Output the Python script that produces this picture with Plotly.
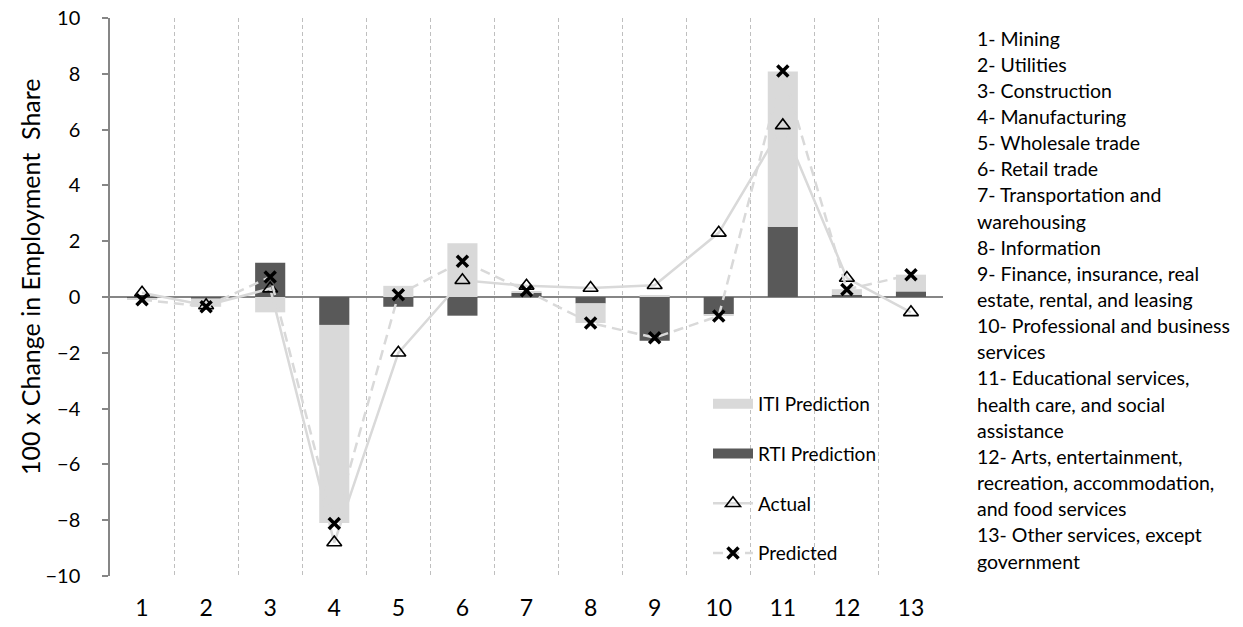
import plotly.graph_objects as go

# ---- data ----
categories = list(range(1, 14))
tick_labels = [str(c) for c in categories]
rti_prediction = [-0.05, -0.05, 1.23, -1.0, -0.35, -0.67, 0.15, -0.23, -1.57, -0.62, 2.52, 0.08, 0.2]
iti_prediction = [-0.05, -0.3, -0.55, -7.1, 0.4, 1.93, 0.05, -0.7, 0.05, -0.03, 5.56, 0.2, 0.6]
actual = [0.15, -0.3, 0.3, -8.8, -2.0, 0.6, 0.4, 0.32, 0.42, 2.3, 6.15, 0.68, -0.55]
predicted = [-0.1, -0.35, 0.72, -8.12, 0.08, 1.28, 0.22, -0.93, -1.46, -0.68, 8.1, 0.27, 0.8]
industry_lines = [
    "1- Mining", "2- Utilities", "3- Construction", "4- Manufacturing",
    "5- Wholesale trade", "6- Retail trade", "7- Transportation and",
    "warehousing", "8- Information", "9- Finance, insurance, real",
    "estate, rental, and leasing", "10- Professional and business",
    "services", "11- Educational services,", "health care, and social",
    "assistance", "12- Arts, entertainment,", "recreation, accommodation,",
    "and food services", "13- Other services, except", "government",
]
y_title = "100 x Change in Employment  Share"

FONT = "Lato"
W, H = 1243, 627
# plot area in page pixels: x 110..943, y 18..576
ML, MT = 110, 18
MR = W - 943
MB = H - 576
PH = H - MT - MB
PW = W - ML - MR


def px_x(page_x):
    return (page_x - ML) / PW


def px_y(page_y):
    return (H - MB - page_y) / PH


LIGHT = "#d9d9d9"
DARK = "#595959"

fig = go.Figure()
fig.add_trace(go.Bar(
    x=categories, y=rti_prediction, name="RTI Prediction",
    marker=dict(color=DARK, line=dict(width=0)),
    showlegend=False,
))
fig.add_trace(go.Bar(
    x=categories, y=iti_prediction, name="ITI Prediction",
    marker=dict(color=LIGHT, line=dict(width=0)),
    showlegend=False,
))
fig.add_trace(go.Scatter(
    x=categories, y=actual, name="Actual", mode="lines+markers",
    line=dict(color=LIGHT, width=2.5),
    marker=dict(symbol="triangle-up-open", size=13, color="black",
                line=dict(color="black", width=1.6)),
    legendgroup="act", legendrank=3,
))
fig.add_trace(go.Scatter(
    x=categories, y=predicted, name="Predicted", mode="lines+markers",
    line=dict(color=LIGHT, width=2.5, dash="10px,6px"),
    marker=dict(symbol="x-thin-open", size=11, color="black",
                line=dict(color="black", width=3.5)),
    legendgroup="pred", legendrank=4,
))
# legend keys for the stacked bars (drawn as wide bands like the original)
fig.add_trace(go.Scatter(
    x=[None], y=[None], name="ITI Prediction", mode="lines",
    line=dict(color=LIGHT, width=10), legendgroup="iti", legendrank=1,
))
fig.add_trace(go.Scatter(
    x=[None], y=[None], name="RTI Prediction", mode="lines",
    line=dict(color=DARK, width=10), legendgroup="rti", legendrank=2,
))

annotations = []
for i, t in enumerate(industry_lines):
    ypix = 38 + 26.15 * i
    annotations.append(dict(
        text=t, xref="paper", yref="paper",
        x=px_x(975), y=px_y(ypix),
        xanchor="left", yanchor="middle", showarrow=False,
        font=dict(family=FONT, size=19.5, color="#000000"),
    ))
annotations.append(dict(
    text=y_title, xref="paper", yref="paper",
    x=px_x(30), y=px_y(277), textangle=-90,
    xanchor="center", yanchor="middle", showarrow=False,
    font=dict(family=FONT, size=25, color="#000000"),
))

fig.update_layout(
    width=W, height=H,
    margin=dict(l=ML, r=MR, t=MT, b=MB, pad=0),
    paper_bgcolor="white", plot_bgcolor="white",
    barmode="relative", bargap=0.53,
    font=dict(family=FONT, size=20, color="#000000"),
    showlegend=True,
    legend=dict(
        x=px_x(708), y=px_y(385),
        xanchor="left", yanchor="top",
        traceorder="grouped", tracegroupgap=22,
        font=dict(family=FONT, size=19, color="#000000"),
        bgcolor="rgba(0,0,0,0)", itemwidth=40,
    ),
    annotations=annotations,
    xaxis=dict(
        range=[0.5, 13.5], tickmode="array", tickvals=categories, ticktext=tick_labels,
        showgrid=False, zeroline=False, showline=False, ticks="",
        tickfont=dict(family=FONT, size=23, color="#000000"),
        ticklabelstandoff=16, automargin=False, ticklabeloverflow="allow",
        minor=dict(tick0=0.5, dtick=1, showgrid=True, gridcolor="#bfbfbf",
                   gridwidth=1, griddash="4px,3px", ticks=""),
    ),
    yaxis=dict(
        range=[-10, 10], tickmode="linear", tick0=-10, dtick=2,
        showgrid=False, zeroline=True, zerolinecolor="#868686", zerolinewidth=1.5,
        showline=True, linecolor="#868686", linewidth=1.5,
        ticks="outside", ticklen=6, tickcolor="#868686", tickwidth=1.5,
        tickfont=dict(family=FONT, size=20, color="#000000"),
        ticklabelstandoff=18, automargin=False, ticklabeloverflow="allow",
    ),
)

fig.write_html("out.html", config={"displayModeBar": False},
               post_script="document.body.style.margin='0';")
